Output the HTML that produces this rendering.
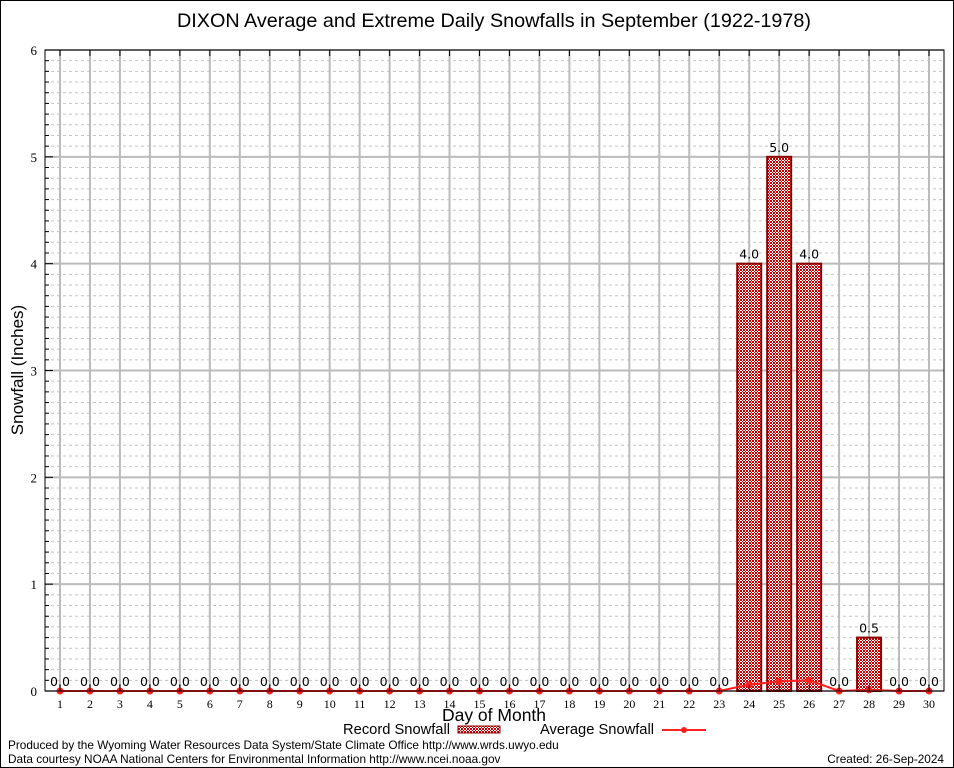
<!DOCTYPE html>
<html><head><meta charset="utf-8"><style>
body{margin:0;background:#fff;}
svg{display:block;font-family:"Liberation Sans",sans-serif;}
</style></head><body>
<svg id="c" width="954" height="768">
<defs>
<pattern id="hatch" width="3" height="3" patternUnits="userSpaceOnUse">
<rect width="3" height="3" fill="#fff"/>
<rect width="1" height="1" fill="#c00000"/><rect x="2" y="0" width="1" height="1" fill="#c00000"/>
<rect x="1" y="1" width="1" height="1" fill="#c00000"/>
<rect x="0" y="2" width="1" height="1" fill="#c00000"/><rect x="2" y="2" width="1" height="1" fill="#c00000"/>
</pattern>
</defs>
<rect x="0.5" y="0.5" width="953" height="767" fill="#fff" stroke="#000"/>
<text x="494" y="27" font-size="19.8" text-anchor="middle">DIXON Average and Extreme Daily Snowfalls in September (1922-1978)</text>
<g id="grid"></g><g id="bars"></g><g id="line"></g><g id="axes"></g>
<text transform="translate(23,370) rotate(-90)" font-size="17" text-anchor="middle">Snowfall (Inches)</text>
<text x="494" y="721" font-size="17.5" text-anchor="middle">Day of Month</text>
<g>
<text x="450" y="734" font-size="14.7" text-anchor="end">Record Snowfall</text>
<rect x="458" y="726" width="42" height="7" fill="url(#hatch)" stroke="#8b0000"/>
</g>
<g>
<text x="654" y="734" font-size="14.7" text-anchor="end">Average Snowfall</text>
<line x1="662" y1="730" x2="706" y2="730" stroke="#ff2020" stroke-width="2"/>
<circle cx="684" cy="730" r="3" fill="#ff2020"/>
</g>
<text x="8" y="749" font-size="11.8">Produced by the Wyoming Water Resources Data System/State Climate Office http://www.wrds.uwyo.edu</text>
<text x="8" y="763" font-size="11.8">Data courtesy NOAA National Centers for Environmental Information http://www.ncei.noaa.gov</text>
<text x="944" y="763" font-size="11.8" text-anchor="end">Created: 26-Sep-2024</text>
</svg>
<script>
const days=[1,2,3,4,5,6,7,8,9,10,11,12,13,14,15,16,17,18,19,20,21,22,23,24,25,26,27,28,29,30];
const records=[0,0,0,0,0,0,0,0,0,0,0,0,0,0,0,0,0,0,0,0,0,0,0,4.0,5.0,4.0,0,0.5,0,0];
const averages=[0,0,0,0,0,0,0,0,0,0,0,0,0,0,0,0,0,0,0,0,0,0,0,0.06,0.09,0.10,0,0.01,0,0];
const yTicks=[0,1,2,3,4,5,6];
const NS="http://www.w3.org/2000/svg";
const L=45,R=944,T=50,B=691,ymax=6;
const x=d=>60+(d-1)*(929-60)/29;
const y=v=>B-(v/ymax)*(B-T);
function mk(tag,attrs,parent,txt){const e=document.createElementNS(NS,tag);for(const k in attrs)e.setAttribute(k,attrs[k]);if(txt!=null)e.textContent=txt;document.getElementById(parent).appendChild(e);return e;}
for(let i=1;i<ymax*10;i++){if(i%10===0)continue;const e=mk('line',{x1:L,x2:R,y1:y(i/10),y2:y(i/10),stroke:'#c4c4c4','stroke-dasharray':'3,3'},'grid');


mk('line',{x1:L,x2:L+4,y1:y(i/10),y2:y(i/10),stroke:'#000'},'axes');}
yTicks.forEach(t=>{const e=mk('line',{x1:L,x2:R,y1:y(t),y2:y(t),stroke:'#bbb','stroke-width':2},'grid');


const tx=mk('text',{x:L-8,y:y(t)+5,'font-size':13,'text-anchor':'end','font-family':'Liberation Serif'},'axes',t);


mk('line',{x1:L,x2:L+8,y1:y(t),y2:y(t),stroke:'#000'},'axes');});
days.forEach(d=>{const e=mk('line',{x1:x(d),x2:x(d),y1:T,y2:B,stroke:'#bbb','stroke-width':2},'grid');


mk('line',{x1:x(d),x2:x(d),y1:B,y2:B-6,stroke:'#000'},'axes');
mk('line',{x1:x(d),x2:x(d),y1:T,y2:T+6,stroke:'#000'},'axes');
const tx=mk('text',{x:x(d),y:B+17,'font-size':12,'text-anchor':'middle','font-family':'Liberation Serif'},'axes',d);

});
const fr=mk('rect',{x:L,y:T,width:R-L,height:B-T,fill:'none',stroke:'#000'},'axes');


const bw=24;
records.forEach((v,i)=>{const d=days[i];
if(v>0){const b=mk('rect',{x:x(d)-bw/2,y:y(v),width:bw,height:B-y(v),fill:'url(#hatch)',stroke:'#8b0000','stroke-width':2},'bars');

}
const t=mk('text',{x:x(d),y:y(v)-5,'font-size':12.5,'text-anchor':'middle','font-family':'DejaVu Sans'},'bars',v.toFixed(1));

});
const pts=averages.map((v,i)=>x(days[i])+','+y(v)).join(' ');
const pl=mk('polyline',{points:pts,fill:'none',stroke:'#ff2020','stroke-width':2},'line');


averages.forEach((v,i)=>{const c=mk('circle',{cx:x(days[i]),cy:y(v),r:3.5,fill:'#ff2020'},'line');

});
</script>
</body></html>
